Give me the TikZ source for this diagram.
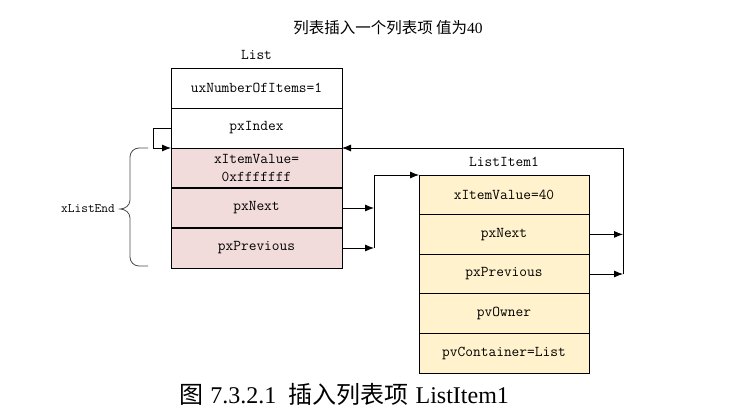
\documentclass[tikz,border=0pt]{standalone}
\usepackage{fontspec}
\newfontfamily\cjk{Noto Sans CJK SC}
\newfontfamily\capfont{Liberation Serif}
\usepackage{xcolor}
\usetikzlibrary{arrows.meta,positioning,calc}
\definecolor{listpink}{HTML}{F2DCDB}
\definecolor{itemyellow}{HTML}{FFF2CC}

\begin{document}
\begin{tikzpicture}[x=1pt, y=-1pt, >={Latex[length=9pt,width=7pt]}, line width=0.8pt,
        cell/.style={draw, rectangle, minimum width=171pt, minimum height=40pt,
                     inner sep=0pt, outer sep=0pt, align=center,
                     font=\ttfamily\fontsize{15}{18}\selectfont},
        endcell/.style={cell, fill=listpink},
        itemcell/.style={cell, fill=itemyellow, minimum width=170pt, minimum height=39.6pt},
        lbl/.style={inner sep=1pt, font=\ttfamily\fontsize{15}{16}\selectfont}]
		\useasboundingbox (0,0) rectangle (753,410);

		% list head
		\node [cell, anchor=north west] (items) at (171,68) {uxNumberOfItems=1};
		\node [cell] (index) [below=0pt of items] {pxIndex};
		\node [endcell] (endval) [below=0pt of index] {xItemValue=\\0xfffffff};
		\node [endcell] (endnext) [below=0pt of endval] {pxNext};
		\node [endcell] (endprev) [below=0pt of endnext] {pxPrevious};
		\node [lbl] (listname) [above=7pt of items] {List};
		\draw [line width=1.8pt] (endval.south west) -- (endval.south east)
		      (endnext.south west) -- (endnext.south east);

		% new item
		\node [itemcell, anchor=north west] (ival) at (419,175) {xItemValue=40};
		\node [itemcell] (inext) [below=0pt of ival] {pxNext};
		\node [itemcell] (iprev) [below=0pt of inext] {pxPrevious};
		\node [itemcell] (iowner) [below=0pt of iprev] {pvOwner};
		\node [itemcell] (icont) [below=0pt of iowner] {pvContainer=List};
		\node [lbl] (itemname) [above=7pt of ival] {ListItem1};

		\coordinate (lbus) at (374,0);
		\coordinate (rbus) at (623,0);

		\draw [->] (index.west) -- ++(-18,0) |- (endval.north west);
		\draw [->] (endnext.east) -- (endnext.east -| lbus);
		\draw [->] (endprev.east) -- (endprev.east -| lbus);
		\draw [->] (endprev.east -| lbus) |- (ival.north west);
		\draw [->] (inext.east) -- (inext.east -| rbus);
		\draw [->] (iprev.east) -- (iprev.east -| rbus);
		\draw [->] (iprev.east -| rbus) |- (endval.north east);

		% xListEnd brace
		\draw [black!70, thick] (148,148) -- (139,148) to[out=180,in=90] (130,157)
		      -- (130,200) to[out=270,in=0] (120,209) to[out=0,in=90] (130,218)
		      -- (130,257) to[out=270,in=180] (139,266) -- (148,266);
		\node [lbl, font=\ttfamily\fontsize{13}{14}\selectfont] (endname) at (88,209) {xListEnd};

		\node (title) at (388,28) {\cjk\fontsize{15.5}{18}\selectfont 列表插入一个列表项 值为{\capfont 40}};
		\node (caption) at (344,394) {\fontsize{24}{28}\selectfont{\cjk 图} {\capfont 7.3.2.1}\enspace{\cjk 插入列表项} {\capfont ListItem1}};
\end{tikzpicture}
\end{document}
